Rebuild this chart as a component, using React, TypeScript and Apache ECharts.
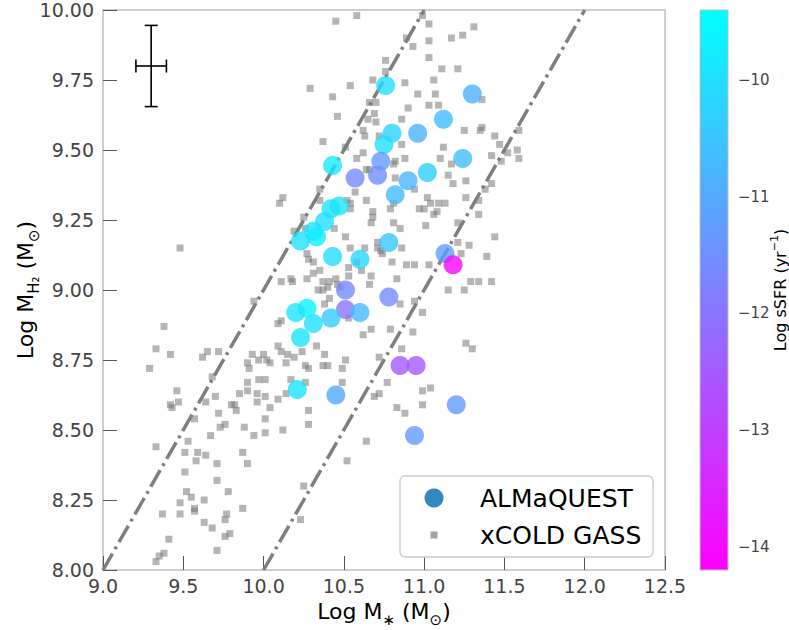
import React, { useEffect, useRef } from "react";
import * as echarts from "echarts";

// ---------- data ----------
// xCOLD GASS sample (grey squares): log M* and log M_H2
const XG_MSTAR = [
  9.38, 9.33, 9.42, 9.29, 9.62, 9.65, 9.72, 9.46, 9.47, 9.42, 9.43, 9.68, 9.64, 9.70, 9.57, 9.72, 9.73, 9.76, 9.80, 9.82,
  9.83, 9.85, 9.90, 9.91, 9.93, 9.90, 9.90, 9.97, 10.00, 10.02, 10.04, 9.97, 10.01, 9.96, 10.01, 9.96, 10.04, 10.01, 10.01, 9.88,
  9.94, 9.87, 9.90, 9.67, 9.53, 9.33, 9.51, 9.59, 9.58, 9.64, 9.71, 9.51, 9.71, 9.78, 9.52, 9.55, 9.48, 9.63, 9.37, 9.48,
  9.57, 9.57, 9.63, 9.68, 9.77, 9.76, 9.87, 9.76, 9.79, 9.41, 9.38, 9.35, 9.33, 9.71, 9.94, 10.09, 10.09, 10.11, 10.11, 10.15,
  10.19, 10.14, 10.24, 10.17, 10.09, 10.14, 10.12, 10.26, 10.28, 10.26, 10.28, 10.28, 10.33, 10.37, 10.40, 10.38, 10.49, 10.51, 10.49, 10.52,
  10.62, 10.67, 10.64, 10.69, 10.72, 10.72, 10.77, 10.25, 10.23, 10.34, 10.37, 10.40, 10.41, 10.38, 10.46, 10.48, 10.11, 10.18, 10.83, 10.88,
  10.99, 10.86, 10.99, 11.04, 11.26, 11.30, 10.53, 10.79, 10.85, 10.94, 10.99, 10.93, 11.15, 11.25, 11.29, 11.34, 11.42,
  10.99, 11.03, 11.31, 11.24, 11.17, 11.03, 10.93, 10.89, 11.03, 10.76, 10.76, 11.11, 11.21, 11.06, 10.88, 11.07, 11.03, 11.09, 10.96, 10.90,
  11.36, 10.86, 11.36, 11.25, 11.35, 11.44, 11.47, 11.52, 11.58, 11.59, 11.59, 11.42, 11.48, 10.86, 10.88, 10.82, 10.81, 10.82, 11.12, 11.10,
  11.17, 11.15, 11.18, 11.26, 11.42, 11.38, 11.26, 11.34, 11.34, 11.02, 11.04, 10.97, 11.00, 11.06, 11.08, 10.94, 10.81, 10.79, 11.01, 10.81,
  10.85, 11.21, 11.28, 11.23, 11.39, 11.44, 10.94, 11.03, 10.89, 10.86, 10.80, 10.74, 11.21, 10.83,
  10.29, 10.43, 10.54, 10.46, 10.37, 10.68, 10.66, 10.70, 10.69, 10.70, 10.65, 10.62, 10.63, 10.72, 10.58, 10.62, 10.64, 10.66, 10.57, 10.64,
  10.54, 10.52, 10.35, 10.12, 10.10, 10.45, 10.58, 10.51, 10.25, 10.19, 10.26, 10.35, 10.44, 10.51, 10.54, 10.68, 10.68, 10.67, 10.54, 10.63,
  10.67, 10.53, 10.53, 10.58, 10.41, 10.37, 10.27, 10.28, 10.31, 10.31, 10.35, 10.27, 9.48, 10.71, 10.73, 10.71, 10.61, 10.66, 10.17, 10.45,
  11.13, 11.09,
];
const XG_MH2 = [
  8.87, 8.79, 8.77, 8.72, 8.76, 8.78, 8.78, 8.64, 8.60, 8.59, 8.58, 8.69, 8.60, 8.62, 8.54, 8.56, 8.51, 8.52, 8.59, 8.59,
  8.57, 8.63, 8.74, 8.72, 8.77, 8.67, 8.64, 8.75, 8.77, 8.75, 8.74, 8.68, 8.68, 8.63, 8.62, 8.60, 8.58, 8.54, 8.49, 8.51,
  8.48, 8.42, 8.38, 8.48, 8.46, 8.44, 8.42, 8.42, 8.39, 8.41, 8.38, 8.35, 8.32, 8.28, 8.28, 8.26, 8.24, 8.25, 8.20, 8.20,
  8.22, 8.21, 8.17, 8.15, 8.20, 8.18, 8.22, 8.12, 8.13, 8.11, 8.06, 8.05, 8.03, 8.07, 8.96, 8.88, 8.80, 8.89, 8.78, 8.77,
  8.76, 8.74, 8.78, 8.68, 8.61, 8.63, 8.50, 8.73, 8.72, 8.67, 8.57, 8.52, 8.80, 8.73, 8.73, 8.77, 8.72, 8.75, 8.67, 8.39,
  8.84, 8.86, 8.46, 8.62, 8.63, 8.76, 8.67, 8.30, 8.18, 9.00, 9.00, 9.01, 8.97, 8.95, 9.02, 9.01, 9.03, 9.03, 8.58, 8.56,
  8.59, 8.79, 8.64, 8.65, 8.81, 8.79, 8.90, 8.86, 8.95, 8.96, 8.92, 8.85, 9.00, 9.00, 9.03, 9.03, 9.03,
  9.98, 9.95, 9.94, 9.91, 9.90, 9.89, 9.87, 9.90, 9.83, 9.82, 9.78, 9.79, 9.79, 9.75, 9.74, 9.70, 9.66, 9.66, 9.70, 9.65,
  9.68, 9.61, 9.58, 9.57, 9.57, 9.55, 9.52, 9.49, 9.50, 9.57, 9.47, 9.48, 9.46, 9.52, 9.47, 9.46, 9.45, 9.40, 9.51, 9.47,
  9.45, 9.41, 9.38, 9.39, 9.38, 9.36, 9.33, 9.32, 9.27, 9.33, 9.31, 9.29, 9.29, 9.27, 9.28, 9.36, 9.31, 9.29, 9.23, 9.24,
  9.22, 9.24, 9.16, 9.13, 9.12, 9.19, 9.09, 9.09, 9.09, 9.15, 9.10, 9.13, 9.17, 9.04,
  9.72, 9.69, 9.73, 9.62, 9.53, 9.75, 9.67, 9.67, 9.63, 9.60, 9.61, 9.57, 9.55, 9.55, 9.47, 9.49, 9.43, 9.43, 9.35, 9.32,
  9.31, 9.32, 9.36, 9.33, 9.31, 9.96, 9.98, 9.51, 9.26, 9.21, 9.22, 9.32, 9.22, 9.19, 9.29, 9.28, 9.26, 9.24, 9.15, 9.15,
  9.05, 9.05, 9.08, 9.10, 9.03, 9.03, 9.13, 9.11, 9.10, 9.06, 9.07, 9.04, 9.15, 9.15, 9.14, 9.17, 9.07, 9.02, 9.04, 9.04,
  9.31, 9.31,
];

// ALMaQUEST sample (circles): log M*, log M_H2, log sSFR
const AQ_MSTAR = [
  10.76, 11.30, 11.12, 10.96, 10.80, 10.75, 11.24, 10.73, 10.43, 10.57, 10.71, 10.90, 11.02, 10.82, 10.47, 10.42, 10.38, 10.31, 10.33, 10.23,
  10.43, 10.60, 10.78, 11.13, 11.18, 10.51, 10.78, 10.51, 10.60, 10.42, 10.31, 10.27, 10.20, 10.23, 10.21, 10.45, 10.85, 10.95, 11.20, 10.94,
];
const AQ_MH2 = [
  9.73, 9.70, 9.61, 9.56, 9.56, 9.52, 9.47, 9.46, 9.445, 9.40, 9.41, 9.39, 9.42, 9.34, 9.30, 9.29, 9.245, 9.21, 9.19, 9.175,
  9.12, 9.11, 9.17, 9.13, 9.09, 9.00, 8.975, 8.93, 8.92, 8.90, 8.88, 8.935, 8.92, 8.83, 8.645, 8.625, 8.73, 8.73, 8.59, 8.48,
];
const AQ_SSFR = [
  -10.0, -10.85, -10.6, -10.85, -10.2, -10.0, -10.65, -11.3, -9.8, -11.6, -11.5, -10.8, -10.3, -10.7, -9.9, -9.9, -10.0, -9.95, -9.7, -9.9,
  -10.05, -10.1, -10.5, -11.2, -14.1, -11.6, -11.55, -12.0, -10.7, -10.4, -10.0, -9.6, -9.9, -9.95, -9.95, -11.0, -12.5, -12.5, -11.3, -11.3,
];

// Dash-dot reference lines
const LINE1_X = [9.0, 11.0];
const LINE1_Y = [8.0, 10.0];
const LINE2_X = [10.0, 12.0];
const LINE2_Y = [8.0, 10.0];

// typical error bar
const EB_X = [9.3];
const EB_Y = [9.8];
const EB_XERR = [0.095];
const EB_YERR = [0.145];

// colour bar
const SSFR_MIN = -14.2;
const SSFR_MAX = -9.4;
const CB_TICKS = [-14, -13, -12, -11, -10];

const FONT = "DejaVu Sans";

export default function App() {
  const ref = useRef<HTMLDivElement>(null);

  useEffect(() => {
    if (!ref.current) return;
    document.body.style.margin = "0";
    const chart = echarts.init(ref.current, null, { renderer: "svg" });

    const xg = XG_MSTAR.map((m, i) => [m, XG_MH2[i]]);
    const aq = AQ_MSTAR.map((m, i) => [m, AQ_MH2[i], AQ_SSFR[i]]);
    const l1 = LINE1_X.map((x, i) => [x, LINE1_Y[i]]);
    const l2 = LINE2_X.map((x, i) => [x, LINE2_Y[i]]);
    const eb = EB_X.map((x, i) => [x, EB_Y[i], EB_XERR[i], EB_YERR[i]]);

    const nameRich = {
      n: { fontSize: 22, fontFamily: FONT, color: "#000", lineHeight: 27, verticalAlign: "top" },
      s: { fontSize: 15, fontFamily: FONT, color: "#000", lineHeight: 15, verticalAlign: "bottom" },
    };

    const option: any = {
      animation: false,
      textStyle: { fontFamily: FONT },
      grid: [
        {
          left: 103, top: 10, width: 562, height: 560, show: true,
          borderColor: "#bfbfbf", borderWidth: 1.5, backgroundColor: "transparent",
          containLabel: false, outerBoundsMode: "none",
        },
        { left: 700, top: 10, width: 28, height: 560, show: false, containLabel: false, outerBoundsMode: "none" },
      ],
      xAxis: [
        {
          type: "value",
          min: 9,
          max: 12.5,
          interval: 0.5,
          axisLine: { show: false },
          axisTick: { show: true, inside: true, length: 14, lineStyle: { color: "#555", width: 1 } },
          axisLabel: { formatter: (v: number) => v.toFixed(1), color: "#444", fontSize: 19, margin: 6, fontFamily: FONT, showMinLabel: true, showMaxLabel: true },
          splitLine: { show: false },
          name: "{n|Log M}{s|∗}{n| (M}{s|⊙}{n|)}",
          nameLocation: "middle",
          nameGap: 30,
          nameMoveOverlap: false,
          nameTextStyle: { rich: nameRich },
        },
        { gridIndex: 1, type: "value", min: 0, max: 1, show: false },
      ],
      yAxis: [
        {
          type: "value",
          min: 8,
          max: 10,
          interval: 0.25,
          axisLine: { show: false },
          axisTick: { show: true, inside: true, length: 14, lineStyle: { color: "#555", width: 1 } },
          axisLabel: { formatter: (v: number) => v.toFixed(2), color: "#444", fontSize: 19, margin: 9, fontFamily: FONT, showMinLabel: true, showMaxLabel: true },
          splitLine: { show: false },
          name: "{n|Log M}{s|H₂}{n| (M}{s|⊙}{n|)}",
          nameLocation: "middle",
          nameRotate: 90,
          nameGap: 62,
          nameMoveOverlap: false,
          nameTextStyle: { rich: nameRich },
        },
        {
          gridIndex: 1,
          type: "value",
          min: SSFR_MIN,
          max: SSFR_MAX,
          position: "right",
          axisLine: { show: false },
          splitLine: { show: false },
          axisTick: { show: true, length: 5, customValues: CB_TICKS, lineStyle: { color: "#555", width: 1 } },
          axisLabel: {
            customValues: CB_TICKS,
            formatter: (v: number) => String(v).replace("-", "−"),
            color: "#444",
            fontSize: 15,
            margin: 10,
            fontFamily: FONT,
          },
          name: "{n|Log sSFR (yr}{p|−1}{n|)}",
          nameLocation: "middle",
          nameRotate: 90,
          nameGap: 41,
          nameMoveOverlap: false,
          nameTextStyle: {
            rich: {
              n: { fontSize: 16, fontFamily: FONT, color: "#000", lineHeight: 19, verticalAlign: "bottom" },
              p: { fontSize: 11, fontFamily: FONT, color: "#000", lineHeight: 11, verticalAlign: "top" },
            },
          },
        },
      ],
      visualMap: {
        type: "continuous",
        show: false,
        min: SSFR_MIN,
        max: SSFR_MAX,
        dimension: 2,
        seriesIndex: 4,
        inRange: { color: ["#ff00ff", "#00ffff"] },
      },
      series: [
        {
          name: "xCOLD GASS",
          type: "scatter",
          data: xg,
          symbol: "rect",
          symbolSize: 7,
          itemStyle: { color: "rgba(120,120,120,0.68)" },
          z: 2,
          silent: true,
        },
        {
          type: "line",
          data: l1,
          symbol: "none",
          lineStyle: { color: "#7f7f7f", width: 3.5, type: [19, 5, 3, 5] },
          z: 3,
          silent: true,
        },
        {
          type: "line",
          data: l2,
          symbol: "none",
          lineStyle: { color: "#7f7f7f", width: 3.5, type: [19, 5, 3, 5] },
          z: 3,
          silent: true,
        },
        {
          type: "custom",
          data: eb,
          z: 5,
          silent: true,
          renderItem: (params: any, api: any) => {
            const x = api.value(0), y = api.value(1), dx = api.value(2), dy = api.value(3);
            const l = api.coord([x - dx, y]);
            const r = api.coord([x + dx, y]);
            const t = api.coord([x, y + dy]);
            const b = api.coord([x, y - dy]);
            const st = { stroke: "#000", lineWidth: 1.6 };
            const cw = 6.5;
            return {
              type: "group",
              children: [
                { type: "line", shape: { x1: l[0], y1: l[1], x2: r[0], y2: r[1] }, style: st },
                { type: "line", shape: { x1: t[0], y1: t[1], x2: b[0], y2: b[1] }, style: st },
                { type: "line", shape: { x1: l[0], y1: l[1] - cw, x2: l[0], y2: l[1] + cw }, style: st },
                { type: "line", shape: { x1: r[0], y1: r[1] - cw, x2: r[0], y2: r[1] + cw }, style: st },
                { type: "line", shape: { x1: t[0] - cw, y1: t[1], x2: t[0] + cw, y2: t[1] }, style: st },
                { type: "line", shape: { x1: b[0] - cw, y1: b[1], x2: b[0] + cw, y2: b[1] }, style: st },
              ],
            };
          },
        },
        {
          name: "ALMaQUEST",
          type: "scatter",
          data: aq,
          symbol: "circle",
          symbolSize: 19,
          z: 6,
          silent: true,
        },
      ],
      graphic: [
        {
          type: "rect",
          shape: { x: 700, y: 10, width: 28, height: 560 },
          style: {
            fill: new echarts.graphic.LinearGradient(0, 0, 0, 1, [
              { offset: 0, color: "#00ffff" },
              { offset: 1, color: "#ff00ff" },
            ]),
            stroke: "#bfbfbf",
            lineWidth: 1,
          },
          z: 10,
        },
        {
          type: "rect",
          shape: { x: 400, y: 476, width: 253, height: 81, r: 5 },
          style: { fill: "rgba(255,255,255,0.85)", stroke: "#cccccc", lineWidth: 1.3 },
          z: 20,
        },
        { type: "circle", shape: { cx: 434, cy: 498, r: 9.5 }, style: { fill: "#3388bf" }, z: 21 },
        { type: "rect", shape: { x: 430.5, y: 531.5, width: 7, height: 7 }, style: { fill: "#a3a3a3" }, z: 21 },
        {
          type: "text",
          x: 480,
          y: 498,
          style: { text: "ALMaQUEST", font: `25px "${FONT}"`, fill: "#000", textVerticalAlign: "middle", verticalAlign: "middle" },
          z: 21,
        },
        {
          type: "text",
          x: 480,
          y: 535,
          style: { text: "xCOLD GASS", font: `25px "${FONT}"`, fill: "#000", textVerticalAlign: "middle", verticalAlign: "middle" },
          z: 21,
        },
      ],
    };

    chart.setOption(option);
    return () => chart.dispose();
  }, []);

  return <div ref={ref} style={{ width: 789, height: 630 }} />;
}
